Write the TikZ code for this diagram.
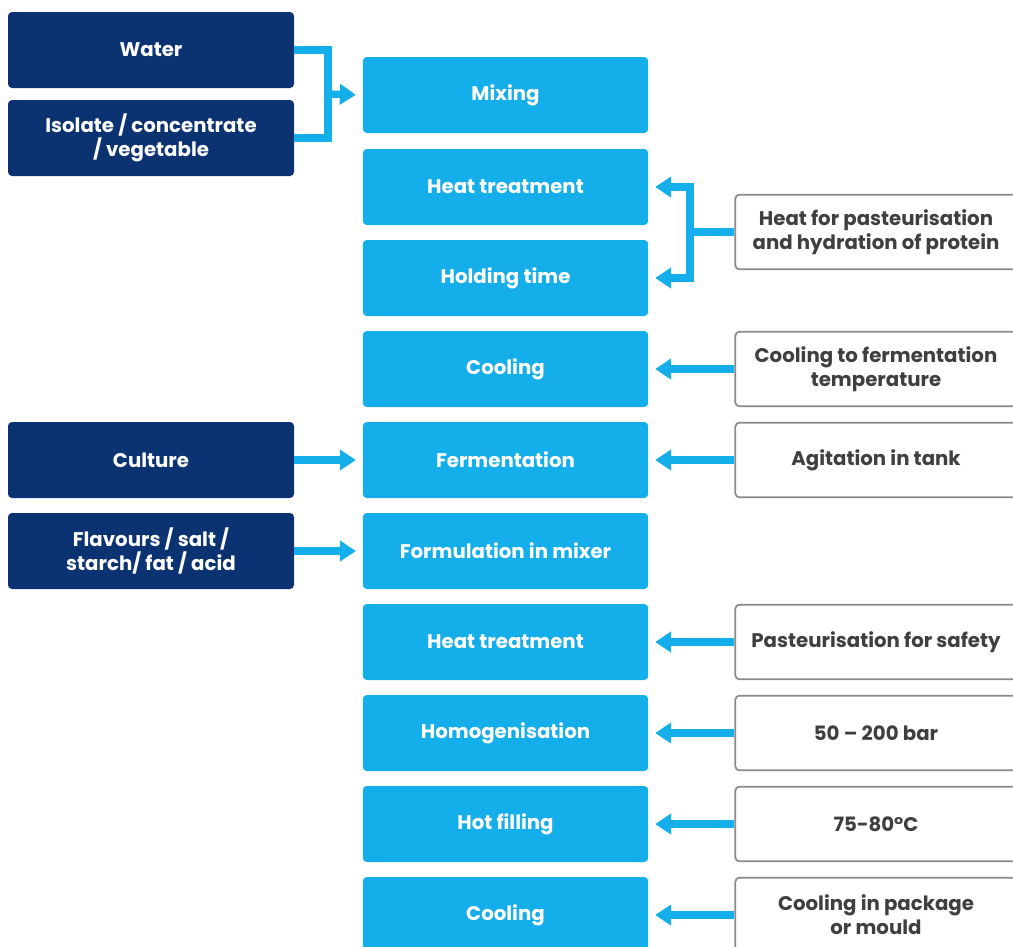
\documentclass[tikz,border=0pt]{standalone}
\usepackage{fontspec}
\setmainfont{Poppins}
\usetikzlibrary{arrows.meta,calc}
\definecolor{navy}{HTML}{0B3372}
\definecolor{sky}{HTML}{14AFEB}
\definecolor{greyline}{HTML}{8A8A8A}
\definecolor{greytext}{HTML}{3F3F3F}
\tikzset{
  base/.style={rounded corners=3pt, minimum height=57pt, align=center, font=\fontsize{14.8}{18}\selectfont\bfseries, inner sep=0pt},
  inbox/.style={base, fill=navy, text=white, minimum width=214.5pt},
  stepbox/.style={base, fill=sky, text=white, minimum width=214pt},
  notebox/.style={base, draw=greyline, line width=1.3pt, fill=white, text=greytext, minimum width=211pt, minimum height=56pt},
  conn/.style={draw=sky, line width=5.5pt},
  arr/.style={conn, -{Triangle[length=12pt,width=15pt]}, shorten >=5pt},
}
\begin{document}
\begin{tikzpicture}[x=0.75pt,y=-0.75pt]
\useasboundingbox (0,0) rectangle (1013,946);
\clip (0,0) rectangle (1013,946);
% left inputs
\node[inbox] (water) at (151,50) {Water};
\node[inbox] (iso) at (151,138) {Isolate / concentrate\\/ vegetable};
\node[inbox] (cult) at (151,460) {Culture};
\node[inbox] (flav) at (151,551) {Flavours / salt /\\starch/ fat / acid};
% process steps
\node[stepbox] (mix) at (505.5,95) {Mixing};
\node[stepbox] (ht1) at (505.5,187) {Heat treatment};
\node[stepbox] (hold) at (505.5,278) {Holding time};
\node[stepbox] (cool1) at (505.5,369) {Cooling};
\node[stepbox] (ferm) at (505.5,460) {Fermentation};
\node[stepbox] (form) at (505.5,551) {Formulation in mixer};
\node[stepbox] (ht2) at (505.5,642) {Heat treatment};
\node[stepbox] (homo) at (505.5,733) {Homogenisation};
\node[stepbox] (fill) at (505.5,824) {Hot filling};
\node[stepbox] (cool2) at (505.5,915) {Cooling};
% notes
\node[notebox] (n1) at (876,232) {Heat for pasteurisation\\and hydration of protein};
\node[notebox] (n2) at (876,369) {Cooling to fermentation\\temperature};
\node[notebox] (n3) at (876,460) {Agitation in tank};
\node[notebox] (n4) at (876,642) {Pasteurisation for safety};
\node[notebox] (n5) at (876,733) {50 – 200 bar};
\node[notebox] (n6) at (876,824) {75-80°C};
\node[notebox] (n7) at (876,915) {Cooling in package\\or mould};
% left bracket
\coordinate (j1) at (328,94);
\draw[conn, line join=miter] (water.east) -| (j1) |- (iso.east);
\draw[arr] (j1) -- (mix.west);
\draw[arr] (cult.east) -- (ferm.west);
\draw[arr] (flav.east) -- (form.west);
% right bracket
\coordinate (j2) at (690,232);
\draw[conn] (n1.west) -- (j2);
\draw[arr, line join=miter] (j2 |- hold) -- (j2 |- ht1) -- (ht1.east);
\draw[arr, line join=miter] (j2 |- ht1) -- (j2 |- hold) -- (hold.east);
\draw[arr] (n2.west) -- (cool1.east);
\draw[arr] (n3.west) -- (ferm.east);
\draw[arr] (n4.west) -- (ht2.east);
\draw[arr] (n5.west) -- (homo.east);
\draw[arr] (n6.west) -- (fill.east);
\draw[arr] (n7.west) -- (cool2.east);
\end{tikzpicture}
\end{document}
